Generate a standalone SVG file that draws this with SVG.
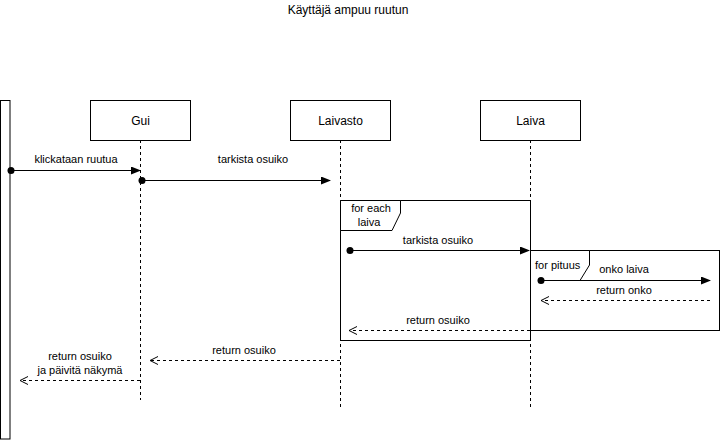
<svg xmlns="http://www.w3.org/2000/svg" width="722" height="444" viewBox="0 0 722 444">
  <defs>
    <marker id="filled" markerWidth="10" markerHeight="8" refX="9" refY="4" orient="auto" markerUnits="userSpaceOnUse">
      <path d="M0,0 L10,4 L0,8 Z" fill="#000"/>
    </marker>
    <marker id="open" markerWidth="10" markerHeight="10" refX="9" refY="5" orient="auto" markerUnits="userSpaceOnUse">
      <path d="M1,1 L9,5 L1,9" fill="none" stroke="#000" stroke-width="1"/>
    </marker>
  </defs>
  <style>
    text { font-family: "Liberation Sans", Arial, sans-serif; font-size: 11px; fill: #000; }
    .box { fill: #fff; stroke: #000; stroke-width: 1; }
    .life { stroke: #000; stroke-width: 1; stroke-dasharray: 3 3; fill: none; }
    .msg { stroke: #000; stroke-width: 1; fill: none; marker-end: url(#filled); }
    .ret { stroke: #000; stroke-width: 1; stroke-dasharray: 3 3; fill: none; marker-end: url(#open); }
    .frame { fill: none; stroke: #000; stroke-width: 1; }
    .tab { fill: #fff; stroke: #000; stroke-width: 1; }
    .mid { text-anchor: middle; }
    .lbl { font-size: 12px; }
  </style>
  <rect width="722" height="444" fill="#fff"/>

  <text x="348" y="14" class="mid lbl">Käyttäjä ampuu ruutun</text>

  <!-- user actor bar -->
  <g id="user">
    <rect class="box" x="0.5" y="100.5" width="9.5" height="338.5"/>
  </g>

  <g id="gui">
    <line class="life" x1="140.5" y1="140" x2="140.5" y2="400"/>
    <rect class="box" x="90.5" y="100.5" width="100" height="40"/>
    <text x="140.5" y="125" class="mid lbl">Gui</text>
  </g>

  <g id="laivasto">
    <line class="life" x1="340.5" y1="140" x2="340.5" y2="410"/>
    <rect class="box" x="290.5" y="100.5" width="100" height="40"/>
    <text x="340.5" y="125" class="mid lbl">Laivasto</text>
  </g>

  <g id="laiva">
    <line class="life" x1="530.5" y1="140" x2="530.5" y2="410"/>
    <rect class="box" x="480.5" y="100.5" width="100" height="40"/>
    <text x="530.5" y="125" class="mid lbl">Laiva</text>
  </g>

  <!-- loop frames -->
  <g id="loop-each">
    <rect class="frame" x="340.5" y="200.5" width="190" height="140"/>
    <path class="tab" d="M340.5,200.5 H400.5 V213 L392,230.5 H340.5 Z"/>
    <text x="371" y="212" class="mid">for each</text>
    <text x="369" y="226" class="mid">laiva</text>
  </g>

  <g id="loop-pituus">
    <rect class="frame" x="530.5" y="250.5" width="189" height="80"/>
    <path class="tab" d="M530.5,250.5 H589.5 V265 L580,280.5"/>
    <text x="535" y="269">for pituus</text>
  </g>

  <!-- messages -->
  <g id="connectors">
    <circle cx="11" cy="170.5" r="3.5" fill="#000"/>
    <line class="msg" x1="11" y1="170.5" x2="140" y2="170.5"/>
    <text x="76" y="163" class="mid">klickataan ruutua</text>

    <circle cx="142" cy="180.5" r="3.5" fill="#000"/>
    <line class="msg" x1="142" y1="180.5" x2="330" y2="180.5"/>
    <text x="253" y="163" class="mid">tarkista osuiko</text>

    <circle cx="350" cy="250.5" r="3.5" fill="#000"/>
    <line class="msg" x1="350" y1="250.5" x2="529" y2="250.5"/>
    <text x="438" y="244" class="mid">tarkista osuiko</text>

    <circle cx="541" cy="280.5" r="3.5" fill="#000"/>
    <line class="msg" x1="541" y1="280.5" x2="710" y2="280.5"/>
    <text x="624" y="273" class="mid">onko laiva</text>

    <line class="ret" x1="710" y1="300.5" x2="541" y2="300.5"/>
    <text x="624" y="294" class="mid">return onko</text>

    <line class="ret" x1="530" y1="330.5" x2="349" y2="330.5"/>
    <text x="438" y="324" class="mid">return osuiko</text>

    <line class="ret" x1="340" y1="360.5" x2="150" y2="360.5"/>
    <text x="244" y="354" class="mid">return osuiko</text>

    <line class="ret" x1="140" y1="380.5" x2="20" y2="380.5"/>
    <text x="80" y="360" class="mid">return osuiko</text>
    <text x="80" y="374" class="mid">ja päivitä näkymä</text>
  </g>
</svg>
